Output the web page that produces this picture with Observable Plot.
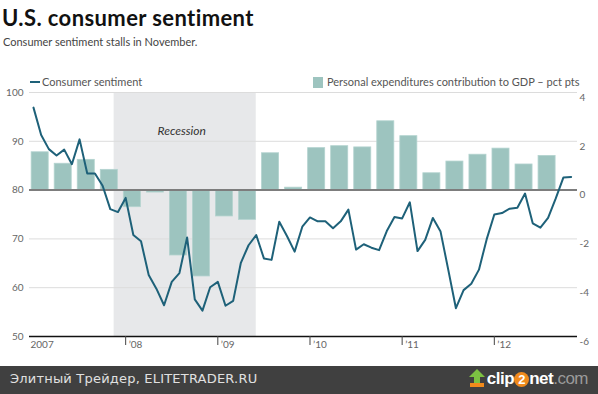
<!DOCTYPE html>
<html><head><meta charset="utf-8">
<script src="https://cdn.jsdelivr.net/npm/d3@7"></script>
<script src="https://cdn.jsdelivr.net/npm/@observablehq/plot@0.6"></script>
<style>
body{margin:0;width:598px;height:394px;position:relative;background:#fff;font-family:Lato,"Open Sans",sans-serif;overflow:hidden}
#title{position:absolute;left:2px;top:4px;font-size:22px;font-weight:700;color:#111;letter-spacing:0.4px}
#subtitle{position:absolute;left:3px;top:35px;font-size:11px;color:#444}
.leg{position:absolute;top:75px;font-size:11px;color:#555;white-space:nowrap}
.sw-line{display:inline-block;width:10px;height:2px;background:#1e6179;vertical-align:middle;margin-right:2px;position:relative;top:-1px}
.sw-bar{display:inline-block;width:10px;height:11px;background:#9dc4bf;vertical-align:middle;margin-right:4px;position:relative;top:-1px}
#chart{position:absolute;left:0;top:70px}
#footer{position:absolute;left:0;top:366px;width:598px;height:28px;background:#404040}
#src{position:absolute;left:10px;top:5px;font-family:"DejaVu Sans",sans-serif;font-size:13px;color:#e0e0e0;letter-spacing:0.2px}
#logo{position:absolute;right:10px;top:3px;font-family:"Liberation Sans",Arial,sans-serif;font-size:17px;font-weight:700;color:#fff;letter-spacing:-0.5px}
#logo .two{display:inline-block;width:15px;height:15px;border-radius:8px;background:#f08a1c;color:#fff;text-align:center;line-height:15px;font-size:13px}
#logo .com{color:#9a9a9a;font-weight:400}
</style></head><body>
<div id="title">U.S. consumer sentiment</div>
<div id="subtitle">Consumer sentiment stalls in November.</div>
<div class="leg" style="left:30px"><span class="sw-line"></span>Consumer sentiment</div>
<div class="leg" style="left:313px"><span class="sw-bar"></span>Personal expenditures contribution to GDP – pct pts</div>
<div id="chart"></div>
<div id="footer"><div id="src">Элитный Трейдер, ELITETRADER.RU</div>
<div id="logo"><svg width="16" height="18" viewBox="0 0 16 18" style="vertical-align:-3px;margin-right:2px"><polygon points="8,0 16,8 11,8 11,14 5,14 5,8 0,8" fill="#7cc242"/><rect x="1" y="14" width="14" height="4" fill="#f08a1c"/></svg>clip<span class="two">2</span>net<span class="com">.com</span></div></div>
<script>
// University of Michigan consumer sentiment, monthly Jan 2007 – Nov 2012
const sentiment = [
  96.9,91.3,88.4,87.1,88.3,85.3,90.4,83.4,83.4,80.9,76.1,75.5,
  78.4,70.8,69.5,62.6,59.8,56.4,61.2,63.0,70.3,57.6,55.3,60.1,
  61.2,56.3,57.3,65.1,68.7,70.8,66.0,65.7,73.5,70.6,67.4,72.5,
  74.4,73.6,73.6,72.2,73.6,76.0,67.8,68.9,68.2,67.7,71.6,74.5,
  74.2,77.5,67.5,69.8,74.3,71.5,63.7,55.8,59.5,60.8,63.7,69.9,
  75.0,75.3,76.2,76.4,79.3,73.2,72.3,74.3,78.3,82.6,82.7];
// Personal expenditures contribution to GDP (pct pts), quarterly Q1 2007 – Q3 2012
const pce = [1.55,1.08,1.24,0.83,-0.70,-0.10,-2.68,-3.54,-1.08,-1.22,1.51,0.10,
  1.72,1.80,1.75,2.82,2.21,0.69,1.17,1.45,1.70,1.05,1.40];
// Year tick labels (month index from Jan 2007)
const yearTicks = [0,12,24,36,48,60];
const yearLabels = ["2007","\u201908","\u201909","\u201910","\u201911","\u201912"];
// Recession: Dec 2007 – Jun 2009 (month index)
const recession = [{start:11,end:29,label:"Recession"}];
const leftTicks = [50,60,70,80,90,100];
const gridVals = [60,70,90,100];

const lineData = sentiment.map((v,i)=>({m:i,v}));
const barData = pce.map((v,i)=>({q:i,v}));
const toLeft = v => 80 + v*5; // right axis (-6..4) maps to left (50..100)
const yearLabel = d => yearLabels[yearTicks.indexOf(d)];

const chart = Plot.plot({
  width:598, height:290,
  marginTop:22, marginBottom:24, marginLeft:29, marginRight:21,
  style:{fontFamily:"Lato, sans-serif", fontSize:"10px", color:"#666", background:"transparent"},
  x:{type:"linear", domain:[-0.52,70.83]},
  y:{domain:[50,100]},
  marks:[
    Plot.rectY(recession,{x1:d=>d.start-0.5, x2:d=>d.end, y1:50, y2:100, fill:"#e7e8ea"}),
    Plot.ruleY(gridVals,{stroke:"#dcdcdc", strokeWidth:1}),
    Plot.rectY(barData,{x1:d=>3*d.q-0.5, x2:d=>3*d.q+2.5, y1:80, y2:d=>toLeft(d.v),
      fill:"#9dc4bf", stroke:"#b3d3cf", strokeWidth:0.8, insetLeft:2, insetRight:4}),
    Plot.ruleY([80],{stroke:"#7d7d7d", strokeWidth:2}),
    Plot.ruleY([50],{stroke:"#111", strokeWidth:1.5}),
    Plot.line(lineData,{x:"m", y:"v", stroke:"#1e6179", strokeWidth:2, strokeLinejoin:"round"}),
    Plot.text(recession,{x:d=>(d.start+d.end)/2 - 0.7, frameAnchor:"top", dy:34, text:"label",
      fontStyle:"italic", fontSize:12, fill:"#333"}),
    Plot.axisY({anchor:"left", ticks:leftTicks, tickSize:0, tickPadding:6, fill:"#666", fontSize:10, label:null}),
    Plot.axisY({anchor:"right", ticks:leftTicks, tickSize:0, tickPadding:2, dy:5,
      tickFormat:d=>String((d-80)/5), fill:"#666", fontSize:10, label:null}),
    Plot.axisX({anchor:"bottom", ticks:yearTicks.slice(1), tickSize:9, tickFormat:()=>"", stroke:"#444", label:null}),
    Plot.axisX({anchor:"bottom", ticks:yearTicks.slice(0,1), tickSize:0, tickPadding:4, textAnchor:"start", dx:-3,
      tickFormat:yearLabel, fill:"#666", fontSize:10, label:null}),
    Plot.axisX({anchor:"bottom", ticks:yearTicks.slice(1), tickSize:0, tickPadding:4, textAnchor:"start", dx:3,
      tickFormat:yearLabel, fill:"#666", fontSize:10, label:null})
  ]
});
document.getElementById("chart").appendChild(chart);
</script>
</body></html>
